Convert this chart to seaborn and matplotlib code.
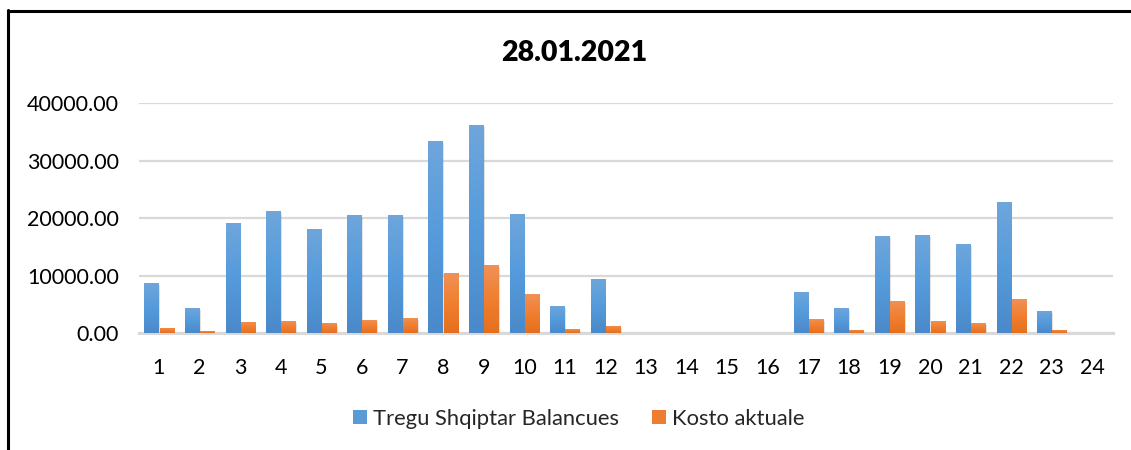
import numpy as np
import pandas as pd
import seaborn as sns
import matplotlib.pyplot as plt
from matplotlib.ticker import FormatStrFormatter
from matplotlib.lines import Line2D
from matplotlib.patches import Patch
from matplotlib.colors import LinearSegmentedColormap
import matplotlib.patheffects as pe

hours = [str(h) for h in range(1, 25)]
tregu_balancues = [8750, 4400, 19200, 21270, 18140, 20580, 20580, 33440, 36230, 20750,
                   4750, 9440, 0, 0, 0, 0, 7180, 4400, 16920, 17100, 15530, 22840, 3880, 0]
kosto_aktuale = [920, 400, 1970, 2140, 1800, 2320, 2670, 10490, 11880, 6840,
                 750, 1270, 0, 0, 0, 0, 2490, 580, 5620, 2140, 1800, 5970, 580, 0]
series_names = ["Tregu Shqiptar Balancues", "Kosto aktuale"]
series_colors = ["#5B9BD5", "#ED7D31"]
title_text = "28.01.2021"

# vertical shading of each series (bottom -> top)
gradients = {
    series_colors[0]: LinearSegmentedColormap.from_list("blue_grad", ["#4A89CA", "#559BDB", "#6FA6DC"]),
    series_colors[1]: LinearSegmentedColormap.from_list("orange_grad", ["#E56F1F", "#F07F30", "#F19159"]),
}

df = pd.DataFrame({
    "Ora": hours * 2,
    "Vlera": tregu_balancues + kosto_aktuale,
    "Seria": [series_names[0]] * 24 + [series_names[1]] * 24,
})

sns.set_theme(style="white")
plt.rcParams["font.family"] = ["Lato", "DejaVu Sans"]

fig = plt.figure(figsize=(11.31, 4.5), dpi=100)
ax = fig.add_axes([0.1226, 0.2593, 0.8612, 0.5111])

sns.barplot(data=df, x="Ora", y="Vlera", hue="Seria", order=hours,
            hue_order=series_names, palette=series_colors, width=0.75, gap=0.08,
            saturation=1, ax=ax, legend=False, zorder=3)

ax.set_ylim(0, 40000)
ax.set_xlim(-0.5, 23.5)

shadow = [pe.SimplePatchShadow(offset=(1.2, -1.2), shadow_rgbFace="#8c8c8c", alpha=0.25),
          pe.Normal()]
grad_img = np.linspace(0, 1, 256).reshape(-1, 1)
for p in list(ax.patches):
    p.set_linewidth(0)
    p.set_path_effects(shadow)
    h = p.get_height()
    if h <= 0:
        continue
    x0 = p.get_x()
    w = p.get_width()
    face = p.get_facecolor()
    key = series_colors[0] if face[2] > face[0] else series_colors[1]
    im = ax.imshow(grad_img, cmap=gradients[key], origin="lower", aspect="auto",
                   extent=(x0, x0 + w, 0, h), zorder=3.5, interpolation="bilinear")
    im.set_clip_path(p)

ax.set_ylim(0, 40000)
ax.set_xlim(-0.5, 23.5)
ax.set_yticks([0, 10000, 20000, 30000, 40000])
ax.yaxis.set_major_formatter(FormatStrFormatter("%.2f"))
ax.grid(axis="y", color="#D9D9D9", linewidth=1.6, zorder=0)
ax.grid(axis="x", visible=False)
for s in ["top", "right", "left"]:
    ax.spines[s].set_visible(False)
ax.spines["bottom"].set_color("#D9D9D9")
ax.spines["bottom"].set_linewidth(2.2)
ax.spines["bottom"].set_zorder(2)
ax.tick_params(axis="both", length=0, labelsize=15.5, colors="black")
ax.tick_params(axis="x", pad=18)
ax.tick_params(axis="y", pad=14)
ax.set_xlabel("")
ax.set_ylabel("")

fig.text(0.508, 0.882, title_text, ha="center", va="center",
         fontsize=20.5, fontweight="heavy", color="black")

handles = [Patch(facecolor=c, edgecolor="none") for c in series_colors]
fig.legend(handles, series_names, loc="center", bbox_to_anchor=(0.512, 0.069),
           ncol=2, frameon=False, fontsize=15.8, handlelength=0.62, handleheight=0.62,
           handletextpad=0.3, columnspacing=1.5)

# frame lines around the chart area
fig.add_artist(Line2D([7.5 / 1131, 1.0], [1 - 11 / 450, 1 - 11 / 450],
                      color="black", linewidth=2.2, transform=fig.transFigure))
fig.add_artist(Line2D([8 / 1131, 8 / 1131], [0.0, 1 - 10 / 450],
                      color="black", linewidth=2.2, transform=fig.transFigure))

fig.savefig("out.png", dpi=100, facecolor="white")
